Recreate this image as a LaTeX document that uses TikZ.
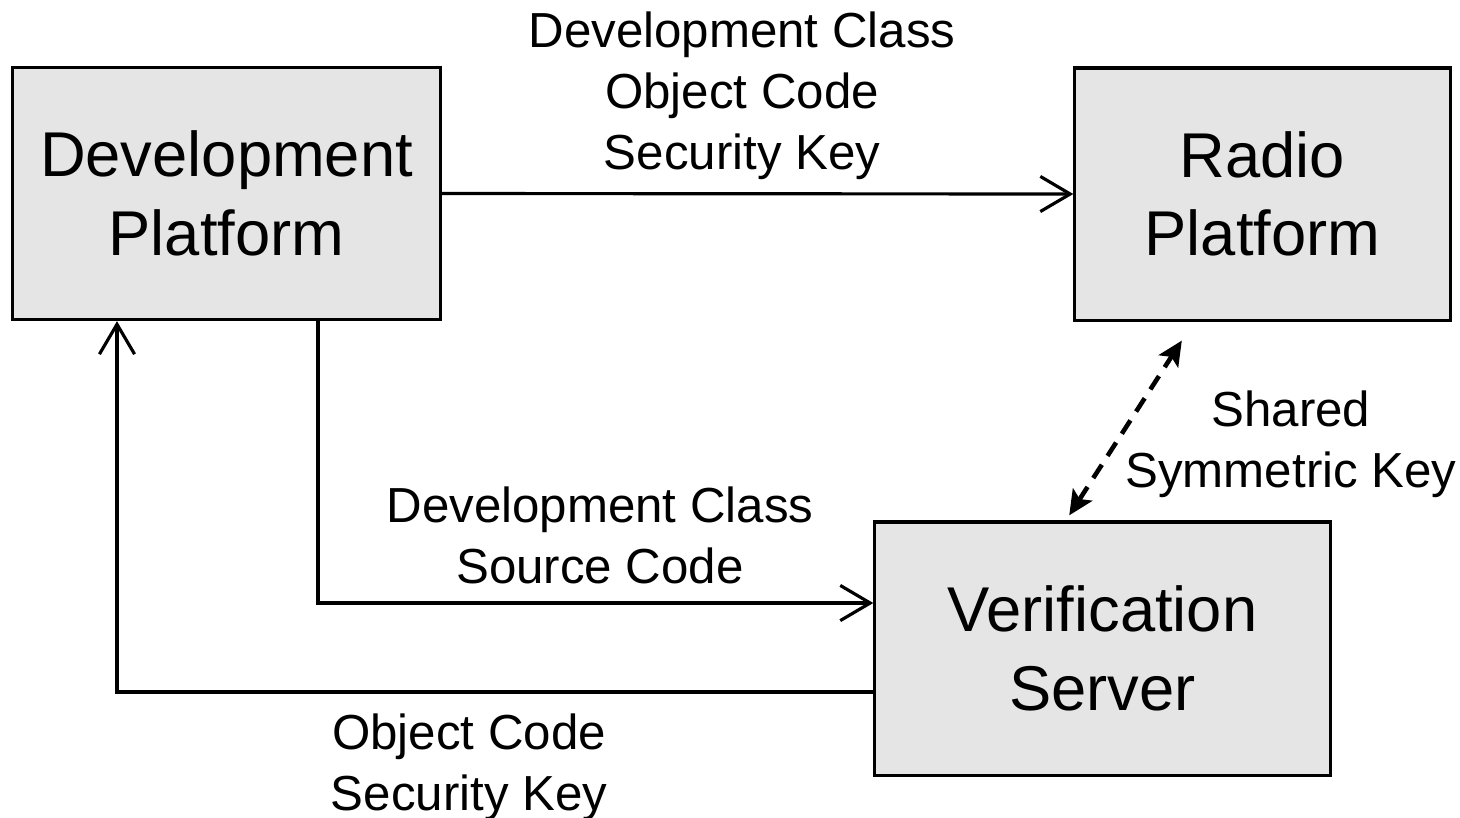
\documentclass[tikz,border=0pt]{standalone}
\usepackage{fontspec}
\setmainfont{Liberation Sans}
\usetikzlibrary{arrows.meta}
\begin{document}
\begin{tikzpicture}[x=0.01cm,y=-0.01cm,
  box/.style={draw=black,line width=0.9pt,fill=black!10,inner sep=0pt,
    align=center,font=\fontsize{18}{22.3}\selectfont},
  lbl/.style={align=center,inner sep=0pt,font=\fontsize{14}{17.4}\selectfont},
  flow/.style={line width=0.9pt,-{Straight Barb[length=8.5pt,width=10pt,line width=0.9pt]}},
  keylink/.style={line width=1.3pt,dash pattern=on 4.5pt off 3pt,
    {Stealth[length=7pt,width=6.5pt,inset=1.5pt]}-{Stealth[length=7pt,width=6.5pt,inset=1.5pt]}}]
  \useasboundingbox (0,0) rectangle (1460,817);

  % platforms and server
  \node[box,minimum width=4.27cm,minimum height=2.52cm] (dp) at (226.5,193.5) {Development\\Platform};
  \node[box,minimum width=3.75cm,minimum height=2.52cm] (rp) at (1262.5,194) {Radio\\Platform};
  \node[box,minimum width=4.55cm,minimum height=2.53cm] (vs) at (1102.5,648.5) {Verification\\Server};

  % routing points
  \coordinate (src) at (318,603);
  \coordinate (ret) at (117,692);
  \coordinate (klo) at (1066,0);
  \coordinate (khi) at (1194,0);

  % connectors
  \draw[flow] (dp.east) -- (rp.west);
  \draw[flow] (dp.south -| src) |- (vs.west |- src);
  \draw[flow] (vs.west |- ret) -| (dp.south -| ret);
  \draw[keylink,shorten <=1.7pt,shorten >=6.4pt] (vs.north -| klo) -- (rp.south -| khi);

  % labels
  \node[lbl] (l1) at (742,95.5) {Development Class\\Object Code\\Security Key};
  \node[lbl] (l2) at (600,535) {Development Class\\Source Code};
  \node[lbl] (l3) at (469,767.5) {Object Code\\Security Key};
  \node[lbl] (l4) at (1291,444.5) {Shared\\Symmetric Key};
\end{tikzpicture}
\end{document}
